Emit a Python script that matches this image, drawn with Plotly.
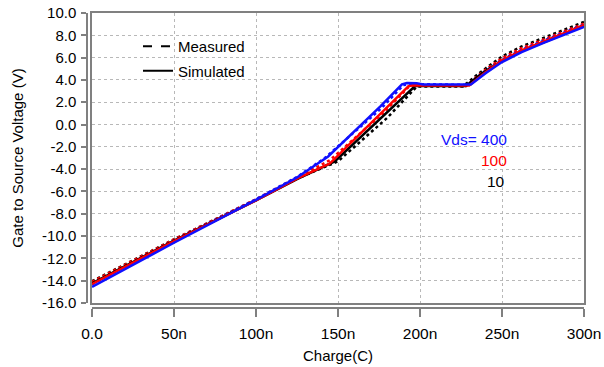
import plotly.graph_objects as go

# ---- data (charge in nC, Vgs in V) ----
blue_sim_q = [0, 50, 100, 125, 144, 176, 189, 192, 198, 202, 231, 240, 250, 262, 275, 300]
blue_sim_v = [-14.55, -10.6, -6.75, -4.75, -2.86, 1.65, 3.6, 3.72, 3.7, 3.6, 3.58, 4.6, 5.6, 6.5, 7.3, 8.75]
blue_meas_q = [0, 50, 100, 125, 142, 176, 190, 200, 229, 238, 250, 262, 275, 300]
blue_meas_v = [-14.3, -10.4, -6.7, -4.7, -3.0, 1.4, 3.55, 3.62, 3.55, 4.6, 5.8, 6.7, 7.5, 8.95]

red_sim_q = [0, 50, 100, 125, 145, 176, 193, 196, 230, 240, 250, 262, 275, 300]
red_sim_v = [-14.3, -10.45, -6.8, -4.85, -3.5, 1.0, 3.45, 3.52, 3.5, 4.7, 5.75, 6.65, 7.4, 8.9]
red_meas_q = [0, 50, 100, 125, 145, 178, 194, 228, 238, 250, 262, 275, 300]
red_meas_v = [-14.1, -10.3, -6.7, -4.75, -3.2, 1.1, 3.5, 3.45, 4.7, 5.95, 6.85, 7.6, 9.05]

black_sim_q = [0, 50, 100, 125, 148, 176, 197, 228, 238, 250, 262, 275, 300]
black_sim_v = [-14.25, -10.4, -6.8, -4.9, -3.3, 0.6, 3.45, 3.45, 4.6, 5.7, 6.6, 7.35, 8.85]
black_meas_q = [0, 50, 100, 125, 150, 180, 198, 226, 236, 250, 262, 275, 300]
black_meas_v = [-14.05, -10.3, -6.75, -4.85, -3.3, 0.6, 3.4, 3.4, 4.6, 6.1, 7.0, 7.75, 9.2]

x_tickvals = [0, 50, 100, 150, 200, 250, 300]
x_ticktext = ["0.0", "50n", "100n", "150n", "200n", "250n", "300n"]
y_tickvals = [10, 8, 6, 4, 2, 0, -2, -4, -6, -8, -10, -12, -14, -16]
y_ticktext = ["10.0", "8.0", "6.0", "4.0", "2.0", "0.0", "-2.0", "-4.0", "-6.0",
              "-8.0", "-10.0", "-12.0", "-14.0", "-16.0"]

BLUE = "#1010ff"
RED = "#ff0000"
BLACK = "#000000"
FONT = "Liberation Sans, Arial, Helvetica, sans-serif"

fig = go.Figure()

series = [
    (black_meas_q, black_meas_v, BLACK, "dot"),
    (red_meas_q, red_meas_v, RED, "dot"),
    (blue_meas_q, blue_meas_v, BLUE, "dot"),
    (black_sim_q, black_sim_v, BLACK, "solid"),
    (red_sim_q, red_sim_v, RED, "solid"),
    (blue_sim_q, blue_sim_v, BLUE, "solid"),
]
for q, v, c, d in series:
    fig.add_trace(go.Scatter(x=q, y=v, mode="lines", showlegend=False,
                             line=dict(color=c, width=2.5, dash=d)))

# legend entries
fig.add_trace(go.Scatter(x=[None], y=[None], mode="lines", name="Measured",
                         legendgroup="a", line=dict(color=BLACK, width=2, dash="dash")))
fig.add_trace(go.Scatter(x=[None], y=[None], mode="lines", name="Simulated",
                         legendgroup="b", line=dict(color=BLACK, width=2)))
# anchor trace for detached axes
fig.add_trace(go.Scatter(x=[], y=[], xaxis="x2", yaxis="y2", showlegend=False))

W, H = 604, 367
ml, mr, mt, mb = 87, 20, 13, 59
pw, ph = W - ml - mr, H - mt - mb
xdom0 = 5 / pw
ydom0 = 5 / ph

grid = dict(showgrid=True, gridcolor="#b8b8b8", gridwidth=1, griddash="dot")
fig.update_layout(
    width=W, height=H,
    margin=dict(l=ml, r=mr, t=mt, b=mb, autoexpand=False),
    paper_bgcolor="white", plot_bgcolor="white",
    font=dict(family=FONT, size=15, color="black"),
    xaxis=dict(domain=[xdom0, 1], range=[0, 300], tickvals=x_tickvals,
               showticklabels=False, ticks="", showline=True, mirror=True,
               linecolor="#808080", linewidth=2, zeroline=False, automargin=False, **grid),
    yaxis=dict(domain=[ydom0, 1], range=[-16, 10], tickvals=y_tickvals,
               showticklabels=False, ticks="", showline=True, mirror=True,
               linecolor="#808080", linewidth=2, zeroline=False, automargin=False, **grid),
    xaxis2=dict(overlaying="x", anchor="free", position=0, range=[0, 300],
                tickvals=x_tickvals, ticktext=x_ticktext, ticks="outside",
                ticklen=8, tickcolor="#808080", tickwidth=1.5, showline=True,
                linecolor="#808080", linewidth=1.5, showgrid=False, zeroline=False,
                tickfont=dict(size=15.5), ticklabelstandoff=4, automargin=False,
                ticklabeloverflow="allow",
                title=dict(text="Charge(C)", font=dict(size=15), standoff=8)),
    yaxis2=dict(overlaying="y", anchor="free", position=0, range=[-16, 10],
                tickvals=y_tickvals, ticktext=y_ticktext, ticks="outside",
                ticklen=5, tickcolor="#808080", tickwidth=1.5, showline=True,
                linecolor="#808080", linewidth=1.5, showgrid=False, zeroline=False,
                tickfont=dict(size=15), ticklabelstandoff=2, automargin=False,
                ticklabeloverflow="allow",
                title=dict(text="Gate to Source Voltage (V)", font=dict(size=15), standoff=14)),
    legend=dict(xref="paper", yref="paper", x=(138 - ml) / pw, y=1 - (30 - mt) / ph,
                xanchor="left", yanchor="top", bgcolor="rgba(0,0,0,0)",
                font=dict(size=15), tracegroupgap=2, itemwidth=30),
)

ann = [
    ("Vds= 400", 254.5, -1.35, BLUE, "right"),
    ("100", 254.5, -3.25, RED, "right"),
    ("10", 239.5, -5.1, BLACK, "left"),
]
for t, x, y, c, xa in ann:
    fig.add_annotation(text=t, x=x, y=y, xref="x", yref="y", showarrow=False,
                       xanchor=xa, yanchor="middle", font=dict(color=c, size=15.5))

# remove the browser's default 8px body margin so the figure sits at (0, 0)
fig.write_html("out.html", config={"displayModeBar": False},
               post_script="document.body.style.margin='0';")
